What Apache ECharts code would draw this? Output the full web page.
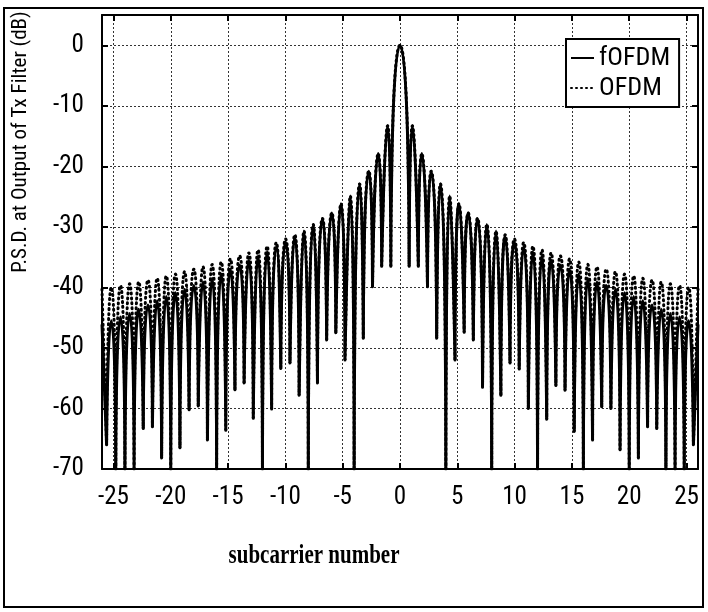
<!DOCTYPE html>
<html><head><meta charset="utf-8">
<script src="https://cdn.jsdelivr.net/npm/echarts@6/dist/echarts.min.js"></script>
<style>html,body{margin:0;padding:0;background:#fff}#c{width:708px;height:612px}</style>
</head><body><div id="c"></div>
<script>
// ---- data ----
const xTicks = [-25, -20, -15, -10, -5, 0, 5, 10, 15, 20, 25];
const yTicks = [-70, -60, -50, -40, -30, -20, -10, 0];

// null (notch) positions and depths (dB)
const nullX = [-25.6, -24.8, -24.0, -23.2, -22.4, -21.6, -20.8, -20.0, -19.2, -18.4, -17.6, -16.8, -16.0, -15.2, -14.4, -13.6,
  -12.8, -12.0, -11.2, -10.4, -9.6, -8.8, -8.0, -7.2, -6.4, -5.6, -4.8, -4.0, -3.2, -2.4, -1.6, -0.8,
  0.8, 1.6, 2.4, 3.2, 4.0, 4.8, 5.6, 6.4, 7.2, 8.0, 8.8, 9.6, 10.4, 11.2, 12.0, 12.8,
  13.6, 14.4, 15.2, 16.0, 16.8, 17.6, 18.4, 19.2, 20.0, 20.8, 21.6, 22.4, 23.2, 24.0, 24.8, 25.6];
const nullDb = [-66, -70, -70, -70, -63.3, -63, -68.2, -70, -66.5, -60.2, -59.6, -65.2, -70, -63.6, -56.9, -55.8,
  -61.6, -70, -60.1, -53.4, -52.5, -57.8, -70, -55.8, -48.7, -47.5, -52, -70, -48.4, -39.9, -36.5, -36.5,
  -36.5, -36.5, -39.9, -48.4, -70, -52.0, -47.4, -48.7, -56.5, -70, -57.8, -52.5, -53.5, -60.0, -70, -61.8,
  -56.2, -57.0, -63.8, -70, -65.2, -59.7, -60.0, -66.8, -70, -68.2, -63.0, -63.3, -70, -70, -70, -66.0];

// lobe peak positions and levels (dB)
const peakX = [-26, -25.19, -24.39, -23.59, -22.79, -21.99, -21.19, -20.39, -19.59, -18.79, -17.99, -17.19, -16.39,
  -15.59, -14.79, -13.99, -13.19, -12.39, -11.59, -10.79, -9.98, -9.18, -8.38, -7.57, -6.76, -5.95, -5.15, -4.34,
  -3.52, -2.72, -1.9, -1.08, 0, 1.08, 1.9, 2.72, 3.52, 4.34, 5.15, 5.95, 6.76, 7.57, 8.38, 9.18, 9.98, 10.79, 11.59,
  12.39, 13.19, 13.99, 14.79, 15.59, 16.39, 17.19, 17.99, 18.79, 19.59, 20.39, 21.19, 21.99, 22.79, 23.59, 24.39, 25.19, 26];
const fofdmPeakDb = [-46.1, -45.5, -44.9, -44.3, -43.6, -42.9, -42.2, -41.5, -40.9, -40.3, -39.7, -39.1, -38.5,
  -37.8, -37.0, -36.3, -35.5, -34.8, -34.1, -33.3, -32.5, -31.6, -30.7, -29.6, -28.6, -27.7, -26.2, -24.9,
  -22.9, -20.8, -17.9, -13.3, 0, -13.3, -17.9, -20.8, -22.9, -24.9, -26.2, -27.7, -28.6, -29.6, -30.7, -31.6, -32.5,
  -33.3, -34.1, -34.8, -35.5, -36.3, -37.0, -37.8, -38.5, -39.1, -39.7, -40.3, -40.9, -41.5, -42.2, -42.9, -43.6,
  -44.3, -44.9, -45.5, -46.1];
const ofdmPeakDb = [-40.3, -40.0, -39.7, -39.4, -39.1, -38.8, -38.5, -38.1, -37.8, -37.4, -37.0, -36.6, -36.2,
  -35.8, -35.3, -34.8, -34.3, -33.8, -33.2, -32.6, -32.0, -31.3, -30.7, -29.6, -28.6, -27.7, -26.2, -24.9,
  -22.9, -20.8, -17.9, -13.3, 0, -13.3, -17.9, -20.8, -22.9, -24.9, -26.2, -27.7, -28.6, -29.6, -30.7, -31.3, -32.0,
  -32.6, -33.2, -33.8, -34.3, -34.8, -35.3, -35.8, -36.2, -36.6, -37.0, -37.4, -37.8, -38.1, -38.5, -38.8, -39.1,
  -39.4, -39.7, -40.0, -40.3];

// each lobe is its own smooth piece: null -> peak -> null (pieces separated by gaps)
function buildLobes(peakDb) {
  const d = [];
  const n = nullX.length;
  d.push([peakX[0], peakDb[0]]);
  d.push([nullX[0], nullDb[0]]);
  d.push([nullX[0], '-']);
  for (let i = 1; i < peakX.length - 1; i++) {
    d.push([nullX[i - 1], nullDb[i - 1]]);
    d.push([peakX[i], peakDb[i]]);
    d.push([nullX[i], nullDb[i]]);
    d.push([nullX[i], '-']);
  }
  d.push([nullX[n - 1], nullDb[n - 1]]);
  d.push([peakX[peakX.length - 1], peakDb[peakDb.length - 1]]);
  return d;
}

// pick a condensed face if one is installed, sized to the widths seen in the picture
const ctx = document.createElement('canvas').getContext('2d');
function widthOf(font, txt) { ctx.font = font; return ctx.measureText(txt).width; }
const probe = 'abcdefghijklmnopqrstuvwxyz-0123456789';
const hasCond = widthOf('40px "Roboto Condensed", monospace', probe) !== widthOf('40px monospace', probe);
const TICKFONT = hasCond ? '"Roboto Condensed", "Liberation Sans", sans-serif' : '"Liberation Sans", Arial, sans-serif';
const tickSize = Math.round(31 / widthOf('1px ' + TICKFONT, '-10') * 10) / 10 || 21;
const legSize = Math.round(71 / widthOf('1px ' + TICKFONT, 'fOFDM') * 10) / 10 || 22;
const yName = 'P.S.D. at Output of Tx Filter (dB)';
const yNameSize = Math.min(21, Math.round(262 / widthOf('1px ' + TICKFONT, yName) * 10) / 10 || 18);

const chart = echarts.init(document.getElementById('c'), null, { renderer: 'canvas' });
const gridLine = { show: true, lineStyle: { type: [2, 2], color: '#333', width: 1 } };

chart.setOption({
  animation: false,
  backgroundColor: '#fff',
  grid: { left: 102, right: 10, top: 15, bottom: 143, outerBoundsMode: 'none' },
  legend: {
    orient: 'vertical', left: 566, top: 39, padding: [6, 9, 6, 4], itemGap: 33 - Math.max(14, Math.round(legSize * 1.1)),
    itemWidth: 23, itemHeight: 14, itemTextGap: 6,
    borderColor: '#000', borderWidth: 2, backgroundColor: '#fff',
    itemStyle: { opacity: 0 },
    textStyle: { fontFamily: TICKFONT, fontSize: legSize, color: '#000' },
    data: ['fOFDM', 'OFDM']
  },
  xAxis: [{
    type: 'value', min: -26, max: 26, position: 'bottom',
    axisLine: { show: true, onZero: false, lineStyle: { color: '#000', width: 2 } },
    axisTick: { show: true, inside: true, length: 6, customValues: xTicks, lineStyle: { color: '#000', width: 2 } },
    axisLabel: { customValues: xTicks, margin: 16, fontFamily: TICKFONT, fontSize: tickSize, color: '#000' },
    splitLine: gridLine
  }, {
    type: 'value', min: -26, max: 26, position: 'top',
    axisLine: { show: true, onZero: false, lineStyle: { color: '#000', width: 2 } },
    axisTick: { show: true, inside: true, length: 6, customValues: xTicks, lineStyle: { color: '#000', width: 2 } },
    axisLabel: { show: false }, splitLine: { show: false }
  }],
  yAxis: [{
    type: 'value', min: -70, max: 5, position: 'left',
    axisLine: { show: true, onZero: false, lineStyle: { color: '#000', width: 2 } },
    axisTick: { show: true, inside: true, length: 6, customValues: yTicks, lineStyle: { color: '#000', width: 2 } },
    axisLabel: { customValues: yTicks, margin: 18, fontFamily: TICKFONT, fontSize: tickSize, color: '#000' },
    splitLine: gridLine
  }, {
    type: 'value', min: -70, max: 5, position: 'right',
    axisLine: { show: true, onZero: false, lineStyle: { color: '#000', width: 2 } },
    axisTick: { show: true, inside: true, length: 6, customValues: yTicks, lineStyle: { color: '#000', width: 2 } },
    axisLabel: { show: false }, splitLine: { show: false }
  }],
  graphic: [
    { type: 'rect', shape: { x: 4, y: 8, width: 699, height: 599 }, style: { fill: 'none', stroke: '#000', lineWidth: 2 }, z: 100 },
    { type: 'text', x: 21, y: 142, rotation: Math.PI / 2,
      style: { text: yName, fontFamily: TICKFONT, fontSize: yNameSize, fill: '#000', align: 'center', verticalAlign: 'middle' } },
    { type: 'text', x: 314, y: 556, scaleY: 1.35,
      style: { text: 'subcarrier number', fontFamily: '"Liberation Serif", serif', fontWeight: 'bold', fontSize: 21, fill: '#000', align: 'center', verticalAlign: 'middle' } }
  ],
  series: [{
    name: 'OFDM', type: 'line', data: buildLobes(ofdmPeakDb), smooth: 1, symbol: 'none',
    connectNulls: false, clip: true, itemStyle: { color: '#000' },
    lineStyle: { color: '#000', width: 3, type: [1, 4], cap: 'round' }
  }, {
    name: 'fOFDM', type: 'line', data: buildLobes(fofdmPeakDb), smooth: 1, symbol: 'none',
    connectNulls: false, clip: true, itemStyle: { color: '#000' },
    lineStyle: { color: '#000', width: 3 }
  }]
});
</script>
</body></html>
